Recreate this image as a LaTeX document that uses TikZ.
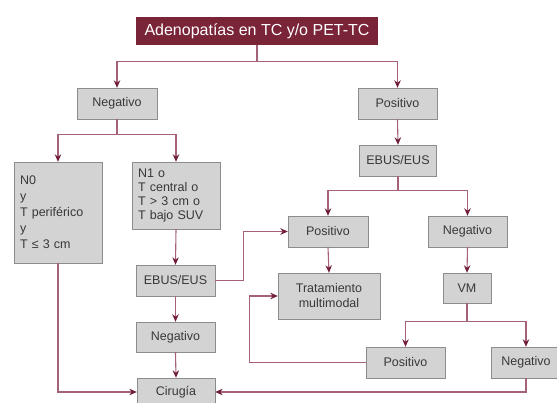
\documentclass[tikz,border=0pt]{standalone}
\usepackage{fontspec}
\setmainfont{Liberation Sans}
\usetikzlibrary{arrows.meta,positioning}
\definecolor{titlered}{RGB}{122,36,56}
\definecolor{linered}{RGB}{165,98,118}
\definecolor{tipred}{RGB}{112,30,58}
\definecolor{boxgray}{RGB}{211,211,211}
\definecolor{edgegray}{RGB}{140,140,140}

\begin{document}
\begin{tikzpicture}[x=1pt, y=-1pt,
  box/.style={draw=edgegray, fill=boxgray, inner sep=0pt, text=black!78, align=center, font=\fontsize{12.5}{15}\selectfont},
  link/.style={draw=linered, line width=1.1pt},
  flow/.style={link, -{Stealth[length=7.5pt, width=6.5pt, color=tipred]}}]
  \useasboundingbox (0,0) rectangle (557,403);
  \node[fill=titlered, text=white, inner sep=0pt, minimum width=242pt, minimum height=28pt, font=\fontsize{16}{18}\selectfont] (title) at (257,31) {Adenopatías en TC y/o PET-TC};
  \node[box, minimum width=80pt, minimum height=31pt] (neg1) at (117,103.5) {Negativo};
  \node[box, minimum width=79pt, minimum height=31pt] (pos1) at (397.5,103.5) {Positivo};
  \node[box, minimum width=88pt, minimum height=101pt, text width=76pt, align=left, font=\fontsize{12.5}{16}\selectfont] (n0) at (58,212.5) {N0\\y\\T periférico\\y\\T ≤ 3 cm};
  \node[box, minimum width=88pt, minimum height=67pt, text width=76pt, align=left, font=\fontsize{12.5}{14}\selectfont] (n1) at (176,195.5) {N1 o\\T central o\\T > 3 cm o\\T bajo SUV};
  \node[box, minimum width=77pt, minimum height=31pt] (ebusR) at (398,160.5) {EBUS/EUS};
  \node[box, minimum width=80pt, minimum height=31pt] (posR) at (328,231.5) {Positivo};
  \node[box, minimum width=79pt, minimum height=31pt] (negR) at (467.5,231.5) {Negativo};
  \node[box, minimum width=79pt, minimum height=31pt] (ebusL) at (175.5,280.5) {EBUS/EUS};
  \node[box, minimum width=102pt, minimum height=46pt] (trat) at (329,296) {Tratamiento\\multimodal};
  \node[box, minimum width=48pt, minimum height=30pt] (vm) at (467,288) {VM};
  \node[box, minimum width=79pt, minimum height=30pt] (negL) at (175.5,337) {Negativo};
  \node[box, minimum width=79pt, minimum height=31pt] (posL) at (405.5,362.5) {Positivo};
  \node[box, minimum width=70pt, minimum height=31pt] (negB) at (526,362.5) {Negativo};
  \node[box, minimum width=78pt, minimum height=28pt] (cir) at (176,392) {Cirugía};
  % first split
  \draw[link] (title.south) -- ++(0,16) coordinate (split1);
  \draw[flow] (split1) -| (neg1.north);
  \draw[flow] (split1) -| (pos1.north);
  % negative branch
  \draw[link] (neg1.south) -- ++(0,15) coordinate (split2);
  \draw[flow] (split2) -| (n0.north);
  \draw[flow] (split2) -| (n1.north);
  \draw[flow] (n1.south) -- (ebusL.north);
  \draw[flow] (ebusL.south) -- (negL.north);
  \draw[flow] (negL.south) -- (cir.north);
  \draw[flow] (n0.south) |- (cir.west);
  \draw[flow] (ebusL.east) -- ++(28,0) |- (posR.west);
  % positive branch
  \draw[flow] (pos1.south) -- (ebusR.north);
  \draw[link] (ebusR.south) -- ++(0,14.5) coordinate (split3);
  \draw[flow] (split3) -| (posR.north);
  \draw[flow] (split3) -| (negR.north);
  \draw[flow] (posR.south) -- (trat.north);
  \draw[flow] (negR.south) -- (vm.north);
  \draw[link] (vm.south) -- ++(0,18) coordinate (split4);
  \draw[flow] (split4) -| (posL.north);
  \draw[flow] (split4) -| (negB.north);
  \draw[flow] (posL.west) -- ++(-116,0) |- (trat.west);
  \draw[flow] (negB.south) |- (cir.east);
\end{tikzpicture}
\end{document}
